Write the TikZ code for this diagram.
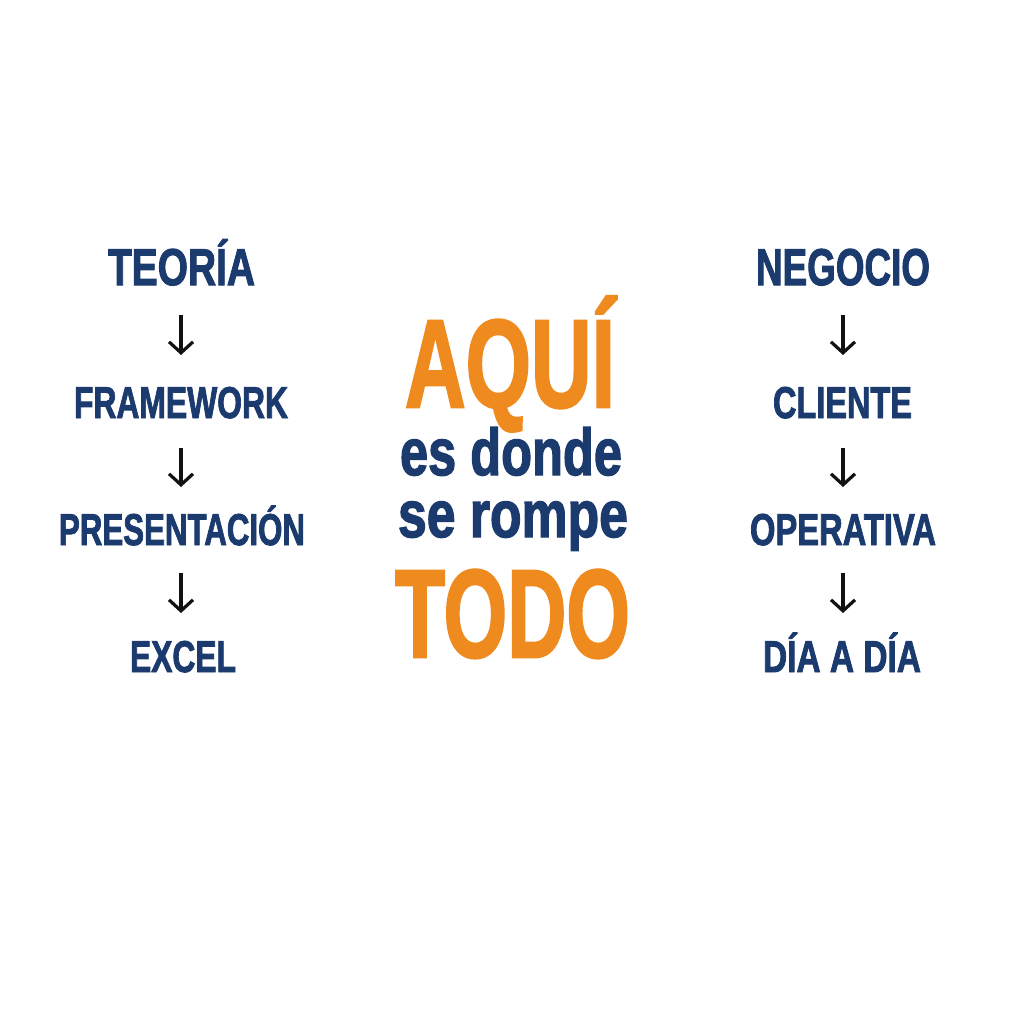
\documentclass[tikz,border=0pt]{standalone}
\usepackage{fontspec}
\setmainfont{Liberation Sans}
\newfontfamily\heavy{Liberation Sans Bold}[FakeBold=2.2]
\usetikzlibrary{arrows.meta,calc}
\definecolor{navy}{HTML}{1B3A6E}
\definecolor{orng}{HTML}{EF8A1E}
\definecolor{arrowink}{HTML}{111111}
\newcommand{\fitw}[2]{\resizebox{#1}{\height}{#2}}
\begin{document}
\begin{tikzpicture}[x=1pt,y=-1pt,
  lbl/.style={inner sep=0pt, anchor=base, text=navy},
  big/.style={lbl, font=\heavy\fontsize{51.7}{52}\selectfont},
  mid/.style={lbl, font=\heavy\fontsize{44.5}{45}\selectfont},
  hero/.style={inner sep=0pt, anchor=base, text=orng, font=\heavy\fontsize{125}{126}\selectfont},
  sub/.style={inner sep=0pt, anchor=base, text=navy, font=\heavy\fontsize{66}{67}\selectfont},
  arr/.style={draw=arrowink, line width=3.2pt, -{Straight Barb[length=11pt,width=24pt,line width=3.2pt]}}]
\useasboundingbox[fill=white] (0,0) rectangle (1024,1024);
% left column
\node[big] (teoria) at (181.5,285) {\fitw{147pt}{TEORÍA}};
\node[mid] (framework) at (181,418) {\fitw{214pt}{FRAMEWORK}};
\node[mid] (presentacion) at (182,545) {\fitw{246pt}{PRESENTACIÓN}};
\node[mid] (excel) at (183,672) {\fitw{106pt}{EXCEL}};
% right column
\node[big] (negocio) at (843,285) {\fitw{174pt}{NEGOCIO}};
\node[mid] (cliente) at (842.5,418) {\fitw{139pt}{CLIENTE}};
\node[mid] (operativa) at (843,545) {\fitw{186pt}{OPERATIVA}};
\node[mid] (diaadia) at (842,672) {\fitw{158pt}{DÍA A DÍA}};
% centre
\node[hero] (aqui) at (510,407) {\fitw{210pt}{AQUÍ}};
\node[sub] (esdonde) at (511,475) {\fitw{222pt}{es donde}};
\node[sub] (serompe) at (513,537) {\fitw{230pt}{se rompe}};
\node[hero] (todo) at (512.5,657) {\fitw{235pt}{TODO}};
% arrows
\draw[arr] ($(teoria.base)+(-0.5,30)$) -- ($(framework.base)+(0,-63)$);
\draw[arr] ($(framework.base)+(0,30)$) -- ($(presentacion.base)+(-1,-58)$);
\draw[arr] ($(presentacion.base)+(-1,28)$) -- ($(excel.base)+(-2,-59)$);
\draw[arr] ($(negocio.base)+(0,30)$) -- ($(cliente.base)+(0.5,-63)$);
\draw[arr] ($(cliente.base)+(0.5,30)$) -- ($(operativa.base)+(0,-58)$);
\draw[arr] ($(operativa.base)+(0,28)$) -- ($(diaadia.base)+(1,-59)$);
\end{tikzpicture}
\end{document}
